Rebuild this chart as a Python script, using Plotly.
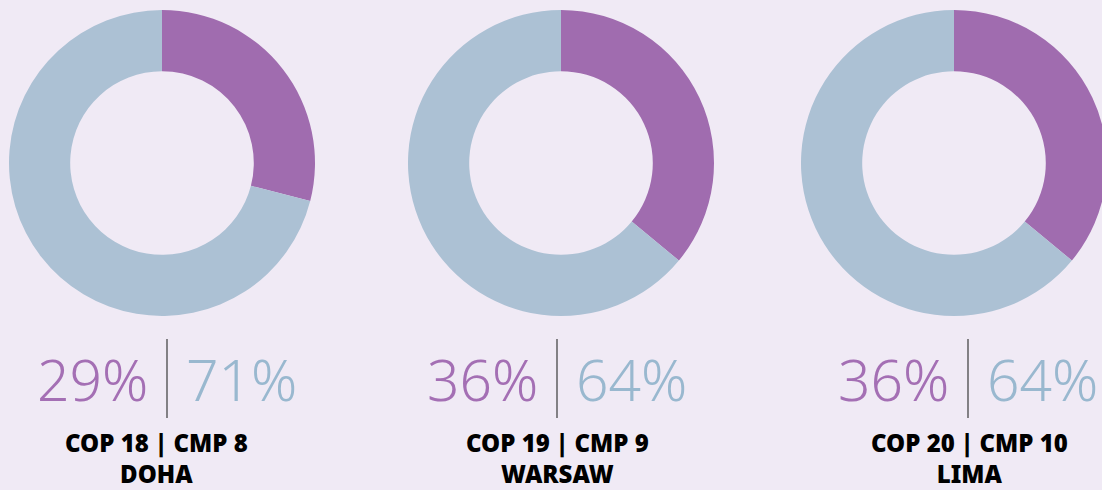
import plotly.graph_objects as go

# ---- data ----
labels = ["COP 18 | CMP 8<br>DOHA", "COP 19 | CMP 9<br>WARSAW", "COP 20 | CMP 10<br>LIMA"]
share_a = [29, 36, 36]   # purple segment (%)
share_b = [71, 64, 64]   # blue segment (%)
slice_names = ["A", "B"]

# ---- style ----
W, H = 1107, 490
BG = "#f0eaf5"
PURPLE = "#a06caf"
BLUE = "#acc1d4"
PURPLE_TXT = "#a46fb4"
BLUE_TXT = "#99b8cf"

centers_x = [162, 561, 954]   # px
center_y = 163
R = 153
divider_x = [167, 557, 968]
title_x = [156, 557, 969]

fig = go.Figure()
for i in range(3):
    cx = centers_x[i]
    fig.add_trace(go.Pie(
        labels=slice_names,
        values=[share_a[i], share_b[i]],
        hole=0.6,
        sort=False,
        direction="clockwise",
        rotation=0,
        marker=dict(colors=[PURPLE, BLUE], line=dict(width=0)),
        textinfo="none",
        hoverinfo="skip",
        showlegend=False,
        domain=dict(x=[(cx - R) / W, (cx + R) / W],
                    y=[1 - (center_y + R) / H, 1 - (center_y - R) / H]),
    ))
    dx = divider_x[i] / W
    fig.add_shape(type="line", xref="paper", yref="paper",
                  x0=dx, x1=dx, y0=1 - 418 / H, y1=1 - 339 / H,
                  line=dict(color="#3a3a3a", width=1.2))
    fig.add_annotation(x=(divider_x[i] - 17) / W, y=1 - 379 / H, xref="paper", yref="paper",
                       text=f"{share_a[i]}%", showarrow=False, xanchor="right", yanchor="middle",
                       font=dict(family="Noto Sans", size=57, color=PURPLE_TXT, weight=300))
    fig.add_annotation(x=(divider_x[i] + 17) / W, y=1 - 379 / H, xref="paper", yref="paper",
                       text=f"{share_b[i]}%", showarrow=False, xanchor="left", yanchor="middle",
                       font=dict(family="Noto Sans", size=57, color=BLUE_TXT, weight=300))
    fig.add_annotation(x=title_x[i] / W, y=1 - 458 / H, xref="paper", yref="paper",
                       text=labels[i], showarrow=False, xanchor="center", yanchor="middle",
                       borderpad=0,
                       font=dict(family="Noto Sans", size=24, color="#000000", weight=900))

fig.update_layout(
    width=W, height=H,
    margin=dict(l=0, r=0, t=0, b=0),
    paper_bgcolor=BG, plot_bgcolor=BG,
    showlegend=False,
)

fig.write_html("out.html", config={"displayModeBar": False},
               post_script="document.body.style.margin='0';document.body.style.overflow='hidden';document.documentElement.style.overflow='hidden';document.body.style.background='" + BG + "';")
